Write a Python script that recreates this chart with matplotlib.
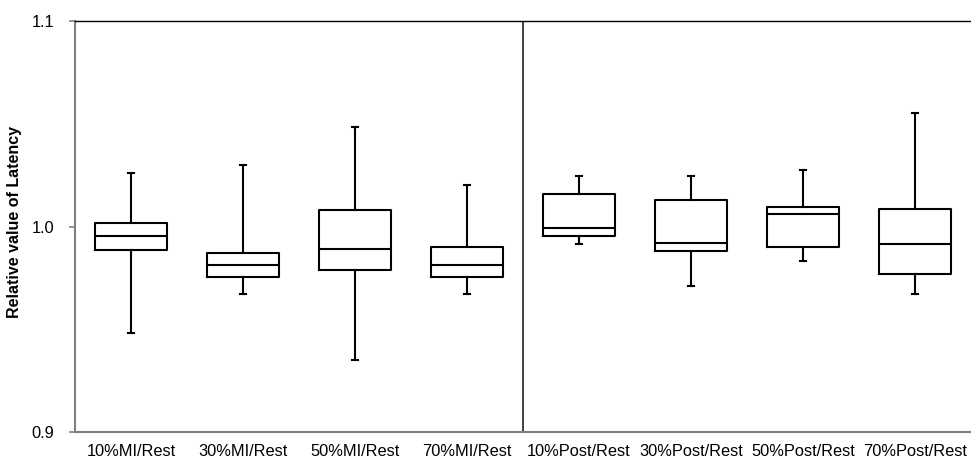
import matplotlib
matplotlib.use("Agg")
import matplotlib.pyplot as plt

categories = ["10%MI/Rest", "30%MI/Rest", "50%MI/Rest", "70%MI/Rest",
              "10%Post/Rest", "30%Post/Rest", "50%Post/Rest", "70%Post/Rest"]
whisker_low = [0.948, 0.967, 0.935, 0.967, 0.9915, 0.971, 0.9834, 0.967]
q1 = [0.9887, 0.9753, 0.979, 0.9753, 0.9955, 0.9882, 0.9902, 0.9769]
median = [0.9955, 0.9811, 0.989, 0.9814, 0.9994, 0.992, 1.0059, 0.9913]
q3 = [1.0018, 0.9871, 1.0082, 0.9899, 1.016, 1.013, 1.0097, 1.0084]
whisker_high = [1.026, 1.030, 1.0484, 1.0203, 1.0247, 1.0246, 1.0277, 1.0552]
yticks = [0.9, 1.0, 1.1]

plt.rcParams['font.family'] = ['Liberation Sans', 'DejaVu Sans']

fig = plt.figure(figsize=(9.71, 4.62), dpi=100)
ax = fig.add_axes([75/971, 1 - 432/462, 1 - 75/971, (432 - 21)/462])

stats = []
for i, c in enumerate(categories):
    stats.append(dict(label=c, whislo=whisker_low[i], q1=q1[i], med=median[i],
                      q3=q3[i], whishi=whisker_high[i], fliers=[]))

lw = 1.5
ax.bxp(stats, positions=range(len(categories)), widths=0.65, showfliers=False,
       capwidths=0.06,
       boxprops=dict(color='black', linewidth=lw),
       medianprops=dict(color='black', linewidth=lw),
       whiskerprops=dict(color='black', linewidth=lw),
       capprops=dict(color='black', linewidth=lw))

ax.set_xlim(-0.5, len(categories) - 0.5)
ax.set_ylim(0.9, 1.1)
ax.set_yticks(yticks)
ax.set_yticklabels([f"{v:.1f}" for v in yticks], fontsize=11.8)
ax.set_xticks(range(len(categories)))
ax.set_xticklabels(categories, fontsize=11.8)
ax.tick_params(axis='x', length=0, pad=9)
ax.tick_params(axis='y', length=4, color='#808080', width=1.2, pad=11)

ax.axvline(3.5, color='#333333', linewidth=1.3)

ax.spines['right'].set_visible(False)
ax.spines['left'].set_color('#808080')
ax.spines['left'].set_linewidth(1.5)
ax.spines['bottom'].set_color('#808080')
ax.spines['bottom'].set_linewidth(1.5)
ax.spines['top'].set_color('black')
ax.spines['top'].set_linewidth(1.0)

ax.set_ylabel("Relative value of Latency", fontsize=11.5, fontweight='bold')
ax.yaxis.set_label_coords((22 - 75) / 896, 0.51)

fig.savefig("out.png", dpi=100)
